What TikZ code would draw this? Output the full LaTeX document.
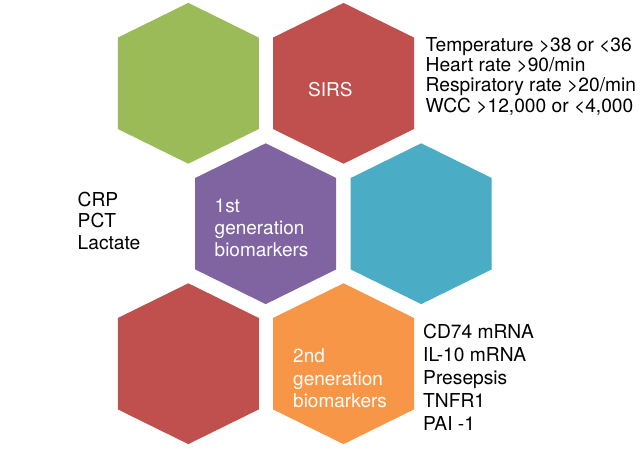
\documentclass[tikz,border=0pt]{standalone}
\usepackage{fontspec}
\setmainfont{TeX Gyre Heros}
\definecolor{hgreen}{HTML}{9BBB59}
\definecolor{hred}{HTML}{C0504D}
\definecolor{hpurple}{HTML}{8064A2}
\definecolor{hteal}{HTML}{4BACC6}
\definecolor{horange}{HTML}{F79646}
\tikzset{
  hex/.pic={\fill (0,-80.4) -- (70.5,-45.7) -- (70.5,45.7) -- (0,80.4) -- (-70.5,45.7) -- (-70.5,-45.7) -- cycle;},
  txt/.style={anchor=base west, inner sep=0pt, font=\fontsize{19.2}{21}\selectfont, text=black},
  wtxt/.style={txt, text=white, font=\fontsize{19}{21}\selectfont}
}
\begin{document}
\begin{tikzpicture}[x=1pt,y=-1pt]
\useasboundingbox[fill=white] (0,0) rectangle (640,453);
% hexagons
\pic[fill=hgreen]  at (188.3,83.3)  {hex};
\pic[fill=hred]    at (343.5,83.3)  {hex};
\pic[fill=hpurple] at (265.7,223.7) {hex};
\pic[fill=hteal]   at (421.2,223.7) {hex};
\pic[fill=hred]    at (188.3,363.7) {hex};
\pic[fill=horange] at (343.5,363.7) {hex};
% labels inside hexagons
\node[wtxt] (sirs) at (308,96.7) {SIRS};
\node[wtxt] (p1) at (214.5,212.7) {1st};
\node[wtxt] (p2) at (214.5,234.3) {generation};
\node[wtxt] (p3) at (214.5,256) {biomarkers};
\node[wtxt] (o1) at (293,362.3) {2nd};
\node[wtxt] (o2) at (293,385.2) {generation};
\node[wtxt] (o3) at (293,407.7) {biomarkers};
% side texts
\node[txt] (s1) at (425.5,51) {Temperature >38 or <36};
\node[txt] (s2) at (425.5,71.4) {Heart rate >90/min};
\node[txt] (s3) at (425.5,91.8) {Respiratory rate >20/min};
\node[txt] (s4) at (425.5,112.2) {WCC >12,000 or <4,000};
\node[txt] (c1) at (77.5,206.7) {CRP};
\node[txt] (c2) at (77.5,227.8) {PCT};
\node[txt] (c3) at (77.5,249) {Lactate};
\node[txt] (b1) at (423,338.9) {CD74 mRNA};
\node[txt] (b2) at (423,361.7) {IL-10 mRNA};
\node[txt] (b3) at (423,384.5) {Presepsis};
\node[txt] (b4) at (423,407.2) {TNFR1};
\node[txt] (b5) at (423,430) {PAI -1};
\end{tikzpicture}
\end{document}
